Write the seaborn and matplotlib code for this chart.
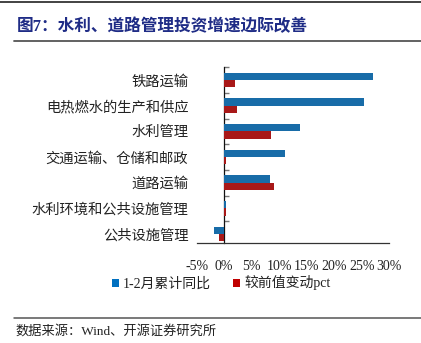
import matplotlib
matplotlib.use("Agg")
import matplotlib.pyplot as plt
from matplotlib.patches import Patch
from matplotlib.lines import Line2D
import seaborn as sns
import pandas as pd

categories = ["铁路运输", "电热燃水的生产和供应", "水利管理", "交通运输、仓储和邮政",
              "道路运输", "水利环境和公共设施管理", "公共设施管理"]
yoy_cum = [27.1, 25.4, 13.8, 11.0, 8.4, 0.4, -1.8]       # 1-2月累计同比 (%)
chg_pct = [1.9, 2.3, 8.5, 0.4, 9.0, 0.3, -1.0]            # 较前值变动pct
series_names = ["1-2月累计同比", "较前值变动pct"]
xticks = [-5, 0, 5, 10, 15, 20, 25, 30]
xtick_labels = ["-5%", "0%", "5%", "10%", "15%", "20%", "25%", "30%"]
title = "图7：水利、道路管理投资增速边际改善"
source = "数据来源：Wind、开源证券研究所"

sns.set_style("white")
plt.rcParams["font.family"] = ["Liberation Serif", "Noto Sans CJK SC", "DejaVu Sans"]

df = pd.DataFrame({
    "cat": categories * 2,
    "value": yoy_cum + chg_pct,
    "series": [series_names[0]] * len(categories) + [series_names[1]] * len(categories),
})
colors = ["#0070C0", "#C00000"]

fig = plt.figure(figsize=(4.21, 3.43), dpi=100)
ax = fig.add_axes([0.467, 0.2907, 0.4577, 0.5131])
sns.barplot(data=df, x="value", y="cat", hue="series", orient="h",
            palette=colors, width=0.57, ax=ax, linewidth=0, legend=False)

ax.set_xlim(-5, 30)
ax.set_ylim(6.36, -0.5)
ax.set_xlabel("")
ax.set_ylabel("")
ax.set_xticks(xticks, xtick_labels)
ax.tick_params(axis="x", direction="in", length=3, color="#666666", pad=12,
               labelsize=10, labelcolor="#222222")
ax.tick_params(axis="y", length=0, pad=6, labelsize=10.3, labelcolor="#222222")
for s in ["top", "right", "left"]:
    ax.spines[s].set_visible(False)
ax.spines["bottom"].set_color("#333333")
ax.spines["bottom"].set_linewidth(0.9)

# zero line axis with ticks at category boundaries
sec = ax.secondary_yaxis(1 / 7)
sec.set_yticks([i - 0.5 for i in range(len(categories))], [""] * len(categories))
sec.tick_params(axis="y", direction="in", length=3.5, color="#777777", width=1)
sec.spines["left"].set_color("#111111")
sec.spines["left"].set_linewidth(0.9)

# legend
handles = [Patch(facecolor=c, edgecolor="none") for c in colors]
fig.legend(handles, series_names, loc="center", bbox_to_anchor=(0.525, 0.175),
           ncol=2, frameon=False, fontsize=10, handlelength=0.5, handleheight=0.5,
           handletextpad=0.3, columnspacing=1.6, labelcolor="#222222")

# title and rules
fig.text(0.04, 0.921, title, fontsize=12, fontweight="bold", color="#1F2C86",
         va="center", ha="left")
fig.add_artist(Line2D([0.033, 1.0], [0.881, 0.881], color="#555555", lw=1.3))
fig.add_artist(Line2D([0.0, 1.0], [0.994, 0.994], color="#222222", lw=1.2))
fig.add_artist(Line2D([0.033, 1.0], [0.074, 0.074], color="#555555", lw=1.1))
fig.text(0.036, 0.035, source, fontsize=9.5, color="#222222", va="center", ha="left")

fig.savefig("out.png", dpi=100)
